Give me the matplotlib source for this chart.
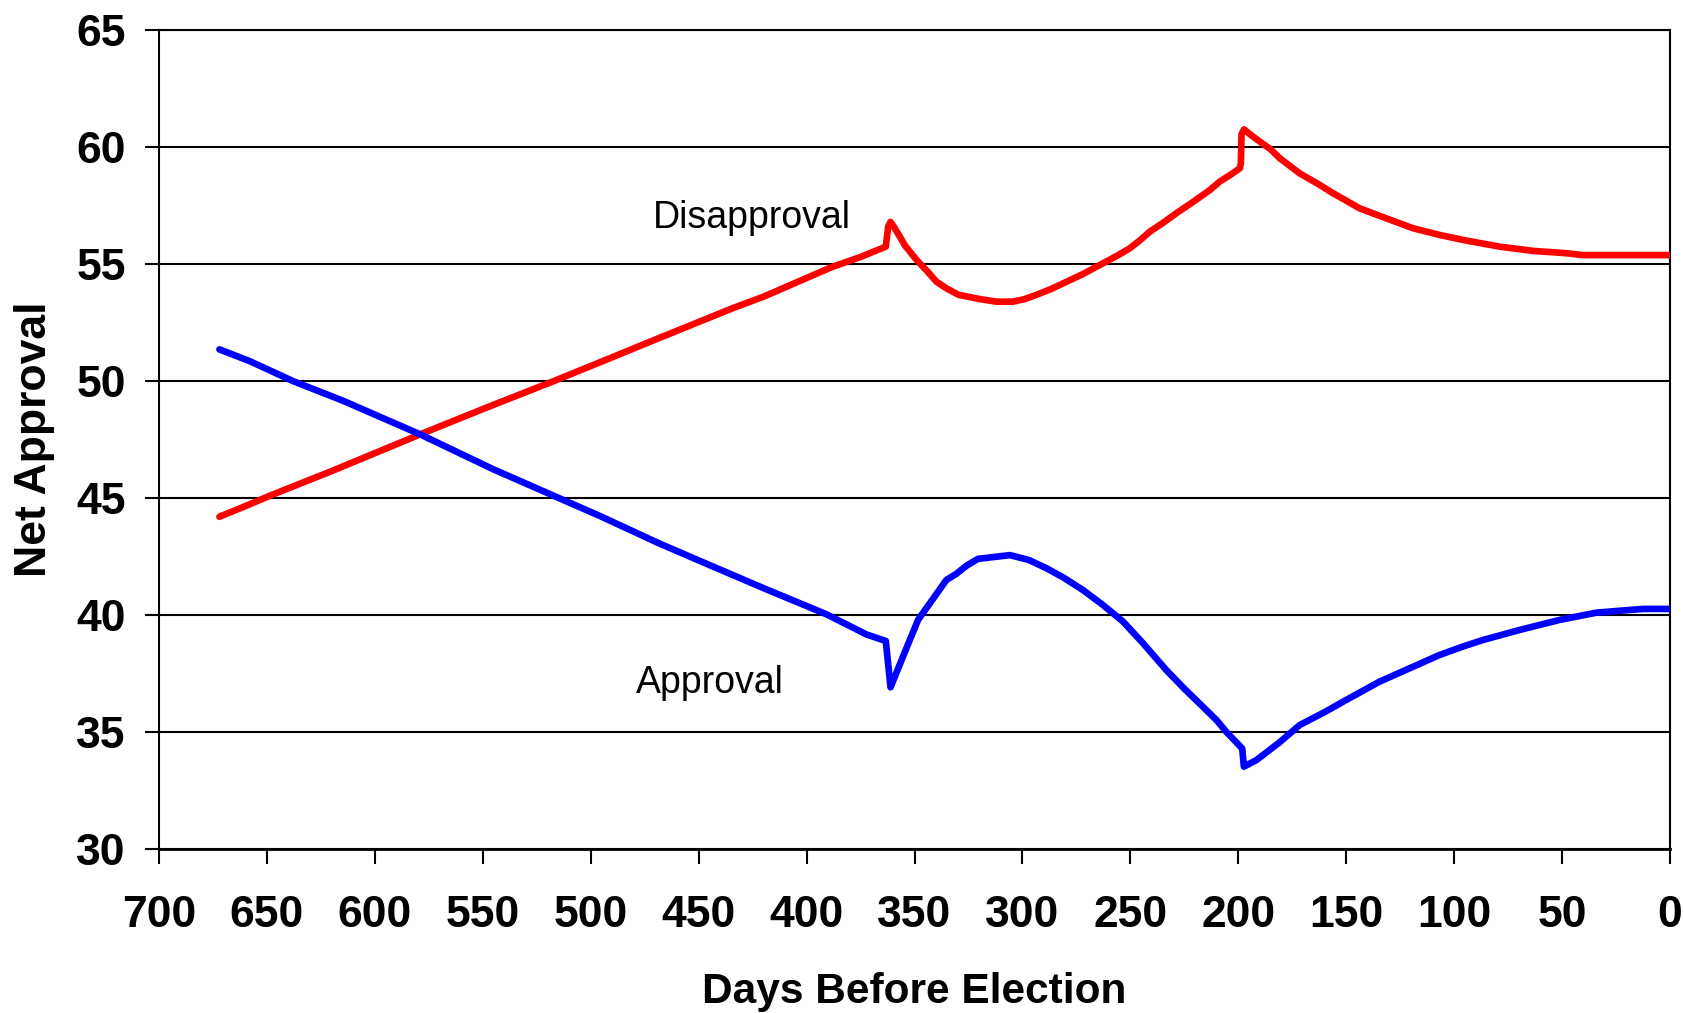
import matplotlib
matplotlib.use("Agg")
import matplotlib.pyplot as plt

plt.rcParams['font.family'] = ['Liberation Sans', 'DejaVu Sans']

# Days before election and values
disapproval_days = [672, 658, 647, 620, 579, 550, 517, 496, 469, 434, 420, 388, 375,
                    363.3, 362.2, 361.1, 359.1, 356.8, 354.5, 349, 344, 339.8, 335,
                    329.5, 319.7, 312, 304.4, 299, 293.6, 287, 281.2, 272, 262.7, 256,
                    250.3, 246, 241, 235, 228.7, 221, 213.2, 208.6, 203, 199.3, 198.8,
                    198.5, 197.3, 194, 190, 185, 180.8, 171.5, 163, 156, 143.8, 131.4,
                    119.1, 106.7, 94.3, 78.8, 63.4, 47.9, 40.4, 20, 0]
disapproval = [44.2, 44.73, 45.16, 46.15, 47.72, 48.8, 50.0, 50.79, 51.81, 53.12, 53.6,
               54.88, 55.3, 55.74, 56.6, 56.8, 56.52, 56.17, 55.8, 55.17, 54.68, 54.24,
               53.95, 53.68, 53.5, 53.39, 53.39, 53.5, 53.68, 53.92, 54.17, 54.57,
               55.03, 55.36, 55.67, 55.98, 56.38, 56.75, 57.17, 57.65, 58.16, 58.52,
               58.85, 59.09, 59.3, 60.55, 60.75, 60.5, 60.23, 59.9, 59.52, 58.87,
               58.42, 58.02, 57.38, 56.95, 56.53, 56.24, 56.0, 55.74, 55.56, 55.46,
               55.38, 55.38, 55.38]

approval_days = [672, 658, 638, 614.6, 579, 545.2, 517, 495.7, 469, 449.4, 420, 390.8,
                 380, 372.3, 363.3, 361.1, 355, 348.3, 342.9, 335.2, 330.6, 326,
                 320.6, 313, 305.8, 297, 288.9, 281, 272, 263, 253.4, 244.1, 233.4,
                 225, 216.4, 210, 205.6, 198.2, 197.4, 191.6, 181, 171.5, 160, 150,
                 134.6, 120.7, 106.8, 96, 86.7, 69.7, 51.1, 34.1, 24.8, 12.5, 0]
approval = [51.35, 50.85, 50.0, 49.15, 47.72, 46.23, 45.09, 44.23, 43.09, 42.31,
            41.15, 40.03, 39.53, 39.17, 38.89, 36.91, 38.3, 39.8, 40.5, 41.5, 41.76,
            42.1, 42.4, 42.48, 42.56, 42.35, 42.0, 41.6, 41.07, 40.45, 39.72, 38.79,
            37.65, 36.85, 36.08, 35.5, 35.01, 34.3, 33.52, 33.8, 34.55, 35.3, 35.85,
            36.37, 37.15, 37.72, 38.29, 38.65, 38.93, 39.36, 39.79, 40.1, 40.17,
            40.26, 40.26]

x_ticks = list(range(700, -1, -50))
y_ticks = list(range(30, 66, 5))

W, H = 1684, 1013
fig = plt.figure(figsize=(W / 100, H / 100), dpi=100)
L, R, T, B = 159, 1670, 30, 849
ax = fig.add_axes([L / W, 1 - B / H, (R - L) / W, (B - T) / H])

ax.plot(disapproval_days, disapproval, color='#ff0000', lw=4.8,
        solid_joinstyle='round', solid_capstyle='round', zorder=3)
ax.plot(approval_days, approval, color='#0000ff', lw=4.8,
        solid_joinstyle='round', solid_capstyle='round', zorder=3)

ax.set_xlim(700, 0)
ax.set_ylim(30, 65)
ax.set_xticks(x_ticks)
ax.set_yticks(y_ticks)
ax.grid(axis='y', color='black', lw=1.5, zorder=1)
ax.grid(axis='x', visible=False)

for s in ax.spines.values():
    s.set_color('black')
    s.set_linewidth(1.5)
ax.spines['bottom'].set_linewidth(2)

ax.tick_params(axis='y', direction='out', length=10, width=1.5, pad=14,
               labelsize=32)
ax.tick_params(axis='x', direction='out', length=11, width=1.5, pad=22,
               labelsize=32)
for lab in ax.get_xticklabels() + ax.get_yticklabels():
    lab.set_fontweight('bold')

ax.set_xlabel('Days Before Election', fontsize=30.5, fontweight='bold')
ax.xaxis.set_label_coords(0.5, -(972 - B) / (B - T))
ax.set_ylabel('Net Approval', fontsize=32, fontweight='bold')
ax.yaxis.set_label_coords(-(L - 55) / (R - L), 0.5)

ax.text(425.3, 56.53, 'Disapproval', fontsize=27, ha='center', va='baseline')
ax.text(444.8, 36.67, 'Approval', fontsize=27, ha='center', va='baseline')

fig.savefig('out.png', dpi=100, facecolor='white')
